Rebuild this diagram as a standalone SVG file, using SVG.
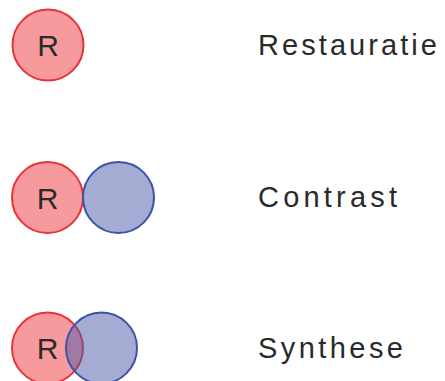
<svg xmlns="http://www.w3.org/2000/svg" width="445" height="381" viewBox="0 0 445 381">
<style>
.red{fill:#f0353d;fill-opacity:0.5;stroke:#e8333a;stroke-width:2}
.blue{fill:#4a5aa8;fill-opacity:0.5;stroke:#3c52a8;stroke-width:2}
.r{font-family:"Liberation Sans",Arial,sans-serif;font-size:30px;fill:#2a2a2a;text-anchor:middle}
.lbl{font-family:"Liberation Sans",Arial,sans-serif;font-size:29px;fill:#2a2a2a}
</style>
<rect width="445" height="381" fill="#fff"/>
<g id="restauratie">
<circle class="red" cx="48" cy="45" r="35.5"/>
<text class="r" x="48" y="56">R</text>
<text class="lbl" x="258" y="55" textLength="179" lengthAdjust="spacing">Restauratie</text>
</g>
<g id="contrast">
<circle class="red" cx="47.5" cy="197.5" r="35.5"/>
<circle class="blue" cx="118.5" cy="197.5" r="35.5"/>
<text class="r" x="47.5" y="208.5">R</text>
<text class="lbl" x="258" y="207" textLength="139" lengthAdjust="spacing">Contrast</text>
</g>
<g id="synthese">
<circle class="red" cx="47.5" cy="348" r="35.5"/>
<circle class="blue" cx="101.5" cy="348" r="35.5"/>
<text class="r" x="47.5" y="359">R</text>
<text class="lbl" x="258" y="358" textLength="145" lengthAdjust="spacing">Synthese</text>
</g>
</svg>
